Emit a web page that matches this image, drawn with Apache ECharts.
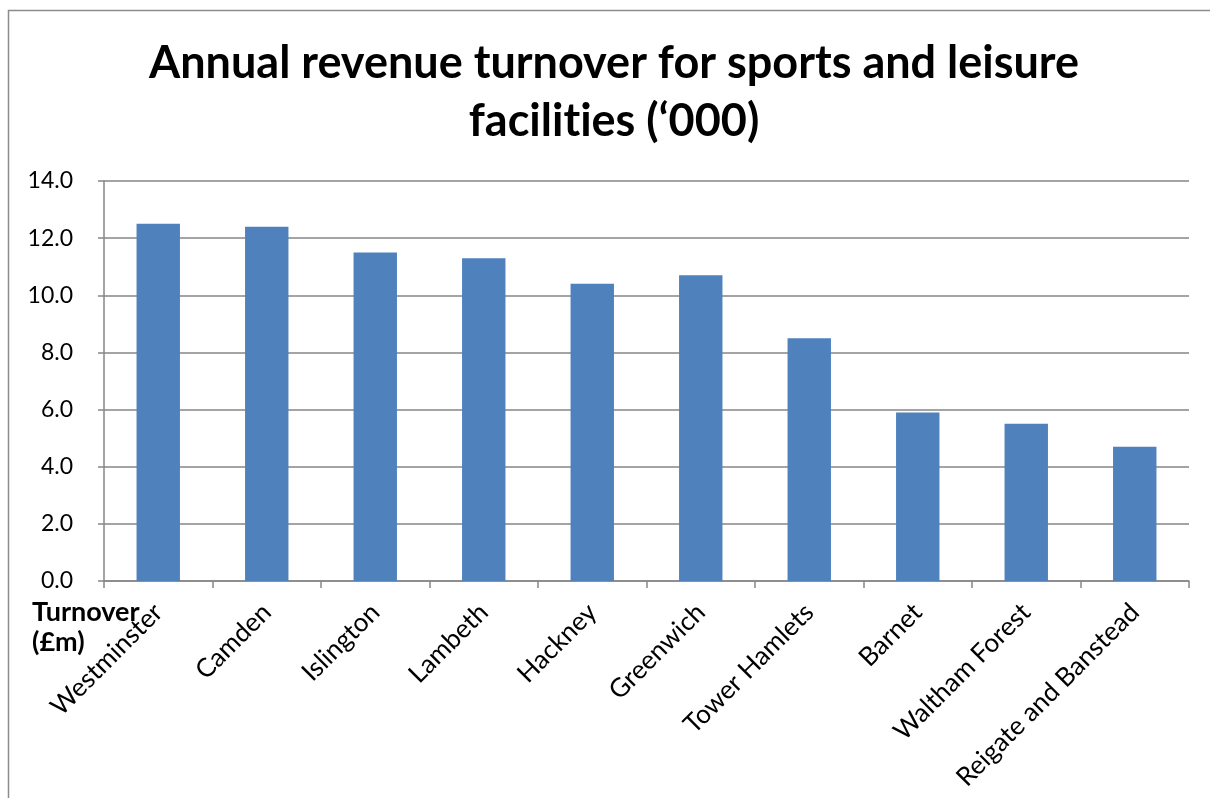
<!DOCTYPE html>
<html>
<head>
<meta charset="utf-8">
<script src="https://cdn.jsdelivr.net/npm/echarts@6/dist/echarts.min.js"></script>
<style>
  html, body { margin: 0; padding: 0; background: #fff; }
  #chart { width: 1210px; height: 798px; }
</style>
</head>
<body>
<div id="chart"></div>
<script>
// Boroughs and their annual sports & leisure turnover (£m)
const boroughs = ['Westminster', 'Camden', 'Islington', 'Lambeth', 'Hackney',
  'Greenwich', 'Tower Hamlets', 'Barnet', 'Waltham Forest', 'Reigate and Banstead'];
const turnover = [12.5, 12.4, 11.5, 11.3, 10.4, 10.7, 8.5, 5.9, 5.5, 4.7];
const yTicks = { min: 0, max: 14, interval: 2 };

const gridGray = '#868686';
const font = 'Lato';
// zero-width non-joiner keeps Lato from fusing "ti" into a ligature
const titleText = 'Annual revenue turnover for sports and leisure\nfacilit\u200Cies (‘000)';

const chart = echarts.init(document.getElementById('chart'), null, { renderer: 'canvas' });
chart.setOption({
  backgroundColor: '#fff',
  animation: false,
  title: [{
    text: titleText,
    left: 609,
    top: 29,
    textAlign: 'center',
    textStyle: { fontFamily: font, fontWeight: 'bold', fontSize: 45, lineHeight: 58, color: '#000' }
  }, {
    text: 'Turnover\n(£m)',
    left: 27,
    top: 592,
    textStyle: { fontFamily: font, fontWeight: 'bold', fontSize: 27, lineHeight: 30, color: '#000' }
  }],
  graphic: [{
    type: 'rect',
    shape: { x: 8.5, y: 10.5, width: 1240, height: 820 },
    style: { fill: 'none', stroke: '#8c8c8c', lineWidth: 1.5 },
    silent: true
  }],
  grid: { left: 104, right: 21, top: 181, bottom: 217 },
  xAxis: {
    type: 'category',
    data: boroughs,
    axisLine: { lineStyle: { color: gridGray, width: 1.5 } },
    axisTick: { show: true, alignWithLabel: false, length: 7, lineStyle: { color: gridGray, width: 1.5 } },
    axisLabel: {
      rotate: 45, interval: 0, margin: 27,
      fontFamily: font, fontSize: 26, color: '#000'
    }
  },
  yAxis: {
    type: 'value',
    min: yTicks.min, max: yTicks.max, interval: yTicks.interval,
    axisLine: { show: true, lineStyle: { color: gridGray, width: 1.5 } },
    axisTick: { show: true, length: 6, lineStyle: { color: gridGray, width: 1.5 } },
    splitLine: { lineStyle: { color: gridGray, width: 1.5 } },
    axisLabel: {
      margin: 31, fontFamily: font, fontSize: 23, color: '#000',
      formatter: v => v.toFixed(1)
    }
  },
  series: [{
    type: 'bar',
    data: turnover,
    barWidth: '40%',
    itemStyle: { color: '#4F81BD' }
  }]
});
</script>
</body>
</html>
